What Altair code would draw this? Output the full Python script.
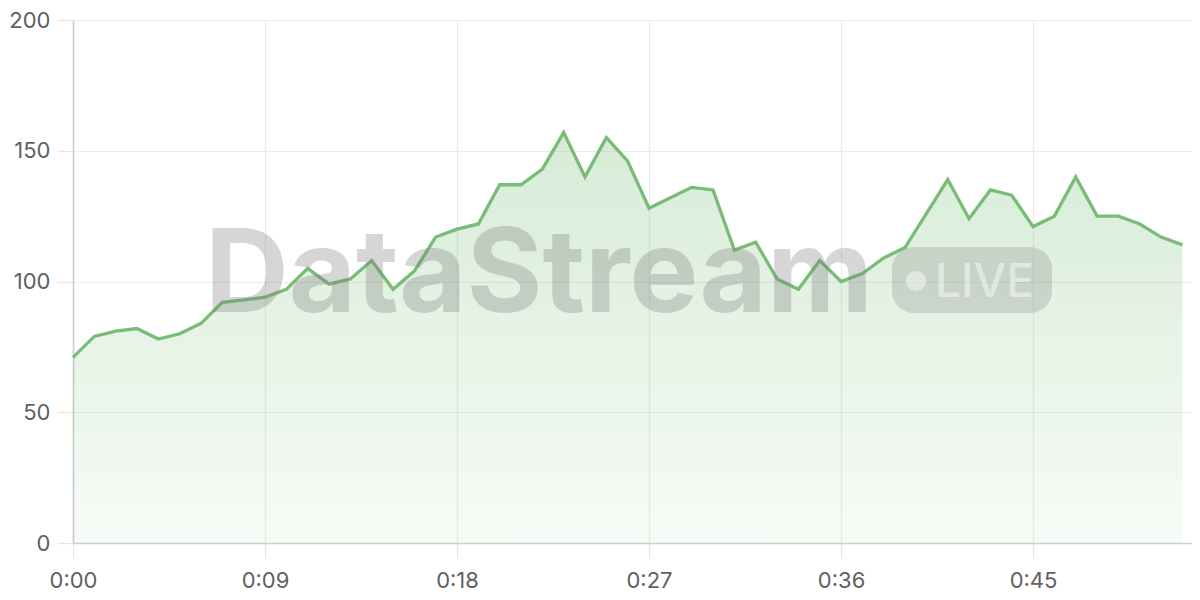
import altair as alt
import pandas as pd

seconds = list(range(53))
values = [71, 79, 81, 82, 78, 80, 84, 92, 93, 94, 97, 105, 99, 101, 108, 97, 104,
          117, 120, 122, 137, 137, 143, 157, 140, 155, 146, 128, 132, 136, 135, 112,
          115, 101, 97, 108, 100, 103, 109, 113, 126, 139, 124, 135, 133, 121, 125,
          140, 125, 125, 122, 117, 114]
x_ticks = [0, 9, 18, 27, 36, 45]
y_ticks = [0, 50, 100, 150, 200]
watermark = ["DataStream"]
badge = ["LIVE"]

df = pd.DataFrame({"t": seconds, "v": values})

xs = alt.Scale(domain=[0, 52.45], nice=False)
ys = alt.Scale(domain=[0, 200], nice=False)

x_enc = alt.X("t:Q", scale=xs, axis=alt.Axis(
    values=x_ticks, title=None, labelExpr="'0:' + (datum.value < 10 ? '0' : '') + datum.value",
    tickSize=15, labelPadding=12, grid=True, labelFlush=False))
y_enc = alt.Y("v:Q", scale=ys, axis=alt.Axis(
    values=y_ticks, title=None, tickSize=16, labelPadding=7, grid=True, labelFlush=False))

area = alt.Chart(df).mark_area(
    color=alt.Gradient(
        gradient="linear",
        stops=[alt.GradientStop(color="rgba(120,190,120,0.30)", offset=0),
               alt.GradientStop(color="rgba(120,190,120,0.06)", offset=1)],
        x1=0, x2=0, y1=0, y2=1),
).encode(x=x_enc, y=y_enc)

line = alt.Chart(df).mark_line(color="#79bc78", strokeWidth=3.3, strokeJoin="miter").encode(
    x=alt.X("t:Q", scale=xs), y=alt.Y("v:Q", scale=ys))

wm_df = pd.DataFrame({"label": watermark})
wm = alt.Chart(wm_df).mark_text(
    font="Inter", fontWeight="bold", fontSize=116, color="#7a7a7a", opacity=0.3,
    align="left", baseline="alphabetic"
).encode(x=alt.value(132), y=alt.value(292), text="label:N")

badge_df = pd.DataFrame({"label": badge})
badge_rect = alt.Chart(badge_df).mark_rect(
    color="#7a7a7a", opacity=0.25, cornerRadius=22
).encode(x=alt.value(819), x2=alt.value(979), y=alt.value(227), y2=alt.value(293))
badge_dot = alt.Chart(badge_df).mark_point(
    filled=True, shape="circle", size=400, color="#ffffff", opacity=0.45
).encode(x=alt.value(843), y=alt.value(261))
badge_text = alt.Chart(badge_df).mark_text(
    font="Inter", fontWeight=500, fontSize=46, color="#ffffff", opacity=0.45,
    align="left", baseline="alphabetic"
).encode(x=alt.value(862), y=alt.value(277), text="label:N")

chart = alt.layer(area, line, wm, badge_rect, badge_dot, badge_text).properties(
    width=1119, height=523,
    autosize=alt.AutoSizeParams(type="none"),
    padding={"left": 65, "top": 12, "right": 0, "bottom": 50},
).configure_view(stroke=None).configure_axis(
    gridColor="#ebebeb", gridWidth=1.2, domainColor="#cfcfcf", domainWidth=1.6,
    tickColor="#e6e6e6", tickWidth=1.2, labelFont="Inter", labelFontSize=22,
    labelColor="#606060"
)

chart.save("out.html", embed_options={"renderer": "svg", "actions": False})
